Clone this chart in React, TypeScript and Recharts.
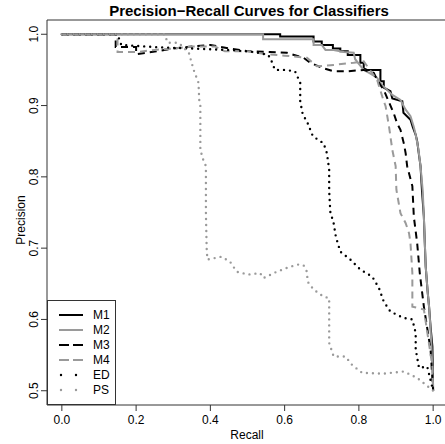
import React from "react";
import { LineChart, Line, XAxis, YAxis, ReferenceArea } from "recharts";

const FONT = '"Liberation Sans", Arial, Helvetica, sans-serif';

// precision-recall points
const m1Recall = [0, 0.588, 0.588, 0.678, 0.678, 0.7, 0.7, 0.73, 0.73, 0.75, 0.75, 0.77, 0.77, 0.804, 0.804, 0.813, 0.813, 0.822, 0.858, 0.858, 0.867, 0.867, 0.885, 0.89, 0.917, 0.92, 0.939, 0.945, 0.953, 0.957, 0.962, 0.966, 0.97, 0.975, 0.978, 0.98, 0.985, 0.989, 0.993, 0.998, 1];
const m1Precision = [1, 1, 0.997, 0.997, 0.99, 0.99, 0.985, 0.985, 0.98, 0.98, 0.976, 0.976, 0.971, 0.971, 0.96, 0.96, 0.952, 0.95, 0.95, 0.934, 0.934, 0.925, 0.92, 0.91, 0.906, 0.89, 0.88, 0.87, 0.859, 0.85, 0.83, 0.815, 0.78, 0.744, 0.7, 0.674, 0.64, 0.618, 0.59, 0.562, 0.5];

const m2Recall = [0, 0.542, 0.542, 0.678, 0.678, 0.7, 0.71, 0.732, 0.76, 0.786, 0.79, 0.813, 0.83, 0.849, 0.86, 0.876, 0.89, 0.912, 0.925, 0.939, 0.948, 0.953, 0.96, 0.966, 0.972, 0.975, 0.98, 0.985, 0.989, 0.995, 1];
const m2Precision = [1, 1, 0.993, 0.993, 0.985, 0.985, 0.978, 0.978, 0.975, 0.974, 0.965, 0.95, 0.945, 0.939, 0.93, 0.922, 0.915, 0.908, 0.895, 0.885, 0.87, 0.859, 0.84, 0.815, 0.78, 0.744, 0.674, 0.64, 0.618, 0.57, 0.5];

const m3Recall = [0, 0.145, 0.145, 0.2, 0.2, 0.255, 0.3, 0.35, 0.4, 0.45, 0.507, 0.56, 0.606, 0.651, 0.669, 0.7, 0.732, 0.768, 0.813, 0.84, 0.85, 0.867, 0.894, 0.903, 0.912, 0.921, 0.926, 0.93, 0.944, 0.948, 0.957, 0.964, 0.975, 0.993, 1];
const m3Precision = [1, 1, 0.982, 0.982, 0.972, 0.976, 0.98, 0.983, 0.985, 0.98, 0.976, 0.975, 0.974, 0.967, 0.96, 0.953, 0.948, 0.948, 0.95, 0.946, 0.935, 0.922, 0.889, 0.875, 0.866, 0.847, 0.833, 0.815, 0.787, 0.744, 0.707, 0.665, 0.618, 0.558, 0.5];

const m4Recall = [0, 0.15, 0.15, 0.2, 0.25, 0.3, 0.35, 0.412, 0.439, 0.498, 0.55, 0.6, 0.66, 0.687, 0.732, 0.786, 0.813, 0.849, 0.867, 0.872, 0.881, 0.89, 0.899, 0.901, 0.912, 0.926, 0.935, 0.939, 0.944, 0.944, 0.975, 0.998, 1];
const m4Precision = [1, 1, 0.975, 0.975, 0.978, 0.98, 0.983, 0.983, 0.976, 0.976, 0.972, 0.97, 0.967, 0.955, 0.957, 0.96, 0.962, 0.936, 0.906, 0.899, 0.871, 0.838, 0.815, 0.782, 0.749, 0.735, 0.721, 0.707, 0.665, 0.618, 0.614, 0.534, 0.5];

const edRecall = [0, 0.15, 0.16, 0.25, 0.35, 0.45, 0.52, 0.556, 0.565, 0.574, 0.601, 0.628, 0.642, 0.642, 0.649, 0.66, 0.676, 0.705, 0.714, 0.72, 0.72, 0.723, 0.732, 0.738, 0.75, 0.777, 0.804, 0.836, 0.854, 0.867, 0.885, 0.921, 0.944, 0.953, 0.953, 0.962, 0.984, 1];
const edPrecision = [1, 1, 0.985, 0.982, 0.98, 0.978, 0.975, 0.971, 0.962, 0.95, 0.95, 0.948, 0.932, 0.906, 0.887, 0.878, 0.857, 0.847, 0.833, 0.81, 0.78, 0.751, 0.735, 0.716, 0.695, 0.684, 0.67, 0.66, 0.644, 0.625, 0.611, 0.602, 0.6, 0.581, 0.558, 0.532, 0.534, 0.5];

const psRecall = [0, 0.277, 0.285, 0.315, 0.342, 0.355, 0.368, 0.37, 0.373, 0.373, 0.38, 0.388, 0.388, 0.39, 0.392, 0.43, 0.453, 0.471, 0.502, 0.534, 0.543, 0.579, 0.615, 0.637, 0.651, 0.66, 0.662, 0.678, 0.705, 0.72, 0.72, 0.732, 0.764, 0.782, 0.809, 0.867, 0.921, 0.957, 1];
const psPrecision = [1, 1, 0.988, 0.988, 0.974, 0.95, 0.932, 0.908, 0.901, 0.838, 0.825, 0.815, 0.75, 0.7, 0.684, 0.688, 0.681, 0.667, 0.663, 0.665, 0.658, 0.667, 0.674, 0.677, 0.676, 0.667, 0.653, 0.642, 0.632, 0.63, 0.567, 0.548, 0.548, 0.536, 0.525, 0.524, 0.527, 0.518, 0.5];

const xTicks = [0, 0.2, 0.4, 0.6, 0.8, 1.0];
const yTicks = [0.5, 0.6, 0.7, 0.8, 0.9, 1.0];

const toPoints = (r: number[], p: number[]) => r.map((v, i) => ({ recall: v, precision: p[i] }));

const GRAY = "#9a9a9a";
const series = [
  { name: "M1", data: toPoints(m1Recall, m1Precision), color: "#000", dash: undefined as string | undefined },
  { name: "M2", data: toPoints(m2Recall, m2Precision), color: GRAY, dash: undefined },
  { name: "M3", data: toPoints(m3Recall, m3Precision), color: "#000", dash: "7 5" },
  { name: "M4", data: toPoints(m4Recall, m4Precision), color: GRAY, dash: "7 5" },
  { name: "ED", data: toPoints(edRecall, edPrecision), color: "#000", dash: "0 6" },
  { name: "PS", data: toPoints(psRecall, psPrecision), color: GRAY, dash: "0 6" },
];

const XTick = (props: any) => (
  <text x={props.x} y={424} textAnchor="middle" fontSize={12} fontFamily={FONT} fill="#000">
    {Number(props.payload.value).toFixed(1)}
  </text>
);

const YTick = (props: any) => (
  <text
    x={38}
    y={props.y}
    textAnchor="middle"
    fontSize={12}
    fontFamily={FONT}
    fill="#000"
    transform={`rotate(-90, 38, ${props.y})`}
  >
    {Number(props.payload.value).toFixed(1)}
  </text>
);

export default function App() {
  return (
    <div style={{ position: "fixed", left: 0, top: 0, width: 445, height: 444, overflow: "hidden", background: "#fff" }}>
      <LineChart width={460} height={444} margin={{ top: 20, right: 12, bottom: 0, left: 0 }}>
        <XAxis
          dataKey="recall"
          type="number"
          domain={[-0.04, 1.04]}
          ticks={xTicks}
          allowDataOverflow
          axisLine={false}
          tickSize={6}
          tickLine={{ stroke: "#333" }}
          tick={<XTick />}
          height={39}
        />
        <YAxis
          dataKey="precision"
          type="number"
          domain={[0.48, 1.02]}
          ticks={yTicks}
          allowDataOverflow
          axisLine={false}
          tickSize={6}
          tickLine={{ stroke: "#333" }}
          tick={<YTick />}
          width={47}
        />
        <ReferenceArea x1={-0.04} x2={1.04} y1={0.48} y2={1.02} fill="none" stroke="#333" strokeWidth={1} />
        {series.map((s) => (
          <Line
            key={s.name}
            data={s.data}
            dataKey="precision"
            type="linear"
            stroke={s.color}
            strokeWidth={s.dash === "0 6" ? 2.4 : 2}
            strokeDasharray={s.dash}
            strokeLinecap={s.dash === "0 6" ? "round" : "butt"}
            dot={false}
            activeDot={false}
            isAnimationActive={false}
          />
        ))}
      </LineChart>
      <svg width={445} height={444} style={{ position: "absolute", left: 0, top: 0, pointerEvents: "none" }}>
        <text x={249} y={16} textAnchor="middle" fontSize={15} fontWeight="bold" fontFamily={FONT} fill="#000">
          Precision−Recall Curves for Classifiers
        </text>
        <text x={247} y={439} textAnchor="middle" fontSize={12} fontFamily={FONT} fill="#000">
          Recall
        </text>
        <text x={25} y={220} textAnchor="middle" fontSize={12} fontFamily={FONT} fill="#000" transform="rotate(-90, 25, 220)">
          Precision
        </text>
        <rect x={47.5} y={300.5} width={68} height={104} fill="#fff" stroke="#333" strokeWidth={1} />
        {series.map((s, i) => (
          <g key={s.name}>
            <line
              x1={s.dash === "0 6" ? 61 : 59}
              x2={83}
              y1={315 + i * 15}
              y2={315 + i * 15}
              stroke={s.color}
              strokeWidth={s.dash === "0 6" ? 2.4 : 2}
              strokeDasharray={s.dash === "0 6" ? "0 15" : s.dash === "7 5" ? "10 4" : undefined}
              strokeLinecap={s.dash === "0 6" ? "round" : "butt"}
            />
            <text x={93} y={319 + i * 15} fontSize={12} fontFamily={FONT} fill="#000">
              {s.name}
            </text>
          </g>
        ))}
      </svg>
    </div>
  );
}
